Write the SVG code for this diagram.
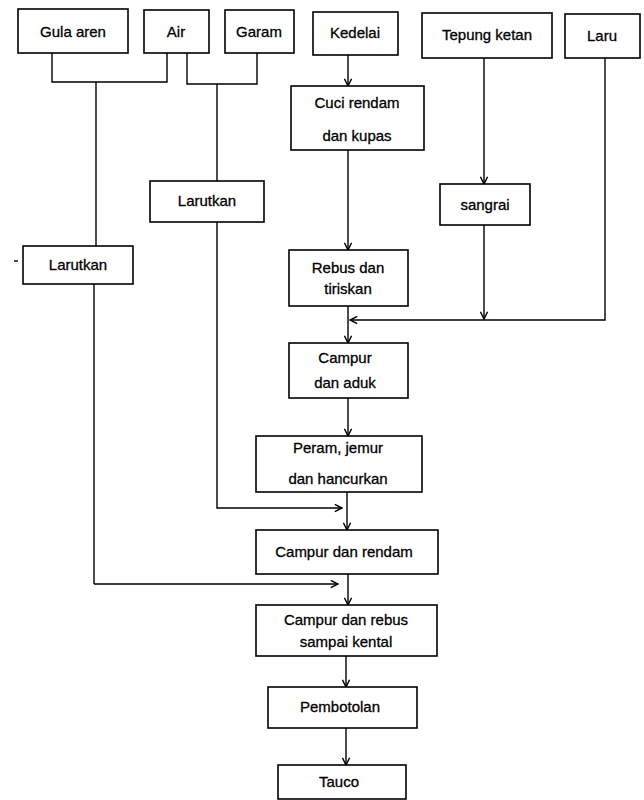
<svg xmlns="http://www.w3.org/2000/svg" width="644" height="800" viewBox="0 0 644 800">
<defs>
<marker id="ah" viewBox="0 0 10 10" refX="9" refY="5" markerWidth="9" markerHeight="9" markerUnits="userSpaceOnUse" orient="auto">
<path d="M1,1 L9,5 L1,9" fill="none" stroke="#000" stroke-width="1.6"/>
</marker>
</defs>
<style>
rect{fill:#fff;stroke:#000;stroke-width:1.6}
text{font-family:"Liberation Sans",Arial,sans-serif;font-size:15px;text-anchor:middle;fill:#000;stroke:#000;stroke-width:0.3}
.c line,.c polyline{stroke:#000;stroke-width:1.4;fill:none}
</style>
<rect width="644" height="800" style="fill:#fff;stroke:none"/>
<g class="c" id="connectors">
<polyline points="52,53 52,82 167,82 167,53"/>
<line x1="96" y1="82" x2="96" y2="246"/>
<polyline points="187,53 187,84 257,84 257,53"/>
<line x1="217" y1="84" x2="217" y2="181"/>
<line x1="348" y1="55" x2="348" y2="86" marker-end="url(#ah)"/>
<line x1="348" y1="150" x2="348" y2="250" marker-end="url(#ah)"/>
<line x1="484" y1="58" x2="484" y2="184" marker-end="url(#ah)"/>
<line x1="484" y1="225" x2="484" y2="319" marker-end="url(#ah)"/>
<polyline points="605,58 605,320 350,320" marker-end="url(#ah)"/>
<line x1="348" y1="306" x2="348" y2="343" marker-end="url(#ah)"/>
<line x1="348" y1="398" x2="348" y2="436" marker-end="url(#ah)"/>
<line x1="347" y1="492" x2="347" y2="530" marker-end="url(#ah)"/>
<polyline points="217,222 217,508 342,508" marker-end="url(#ah)"/>
<line x1="94" y1="284" x2="94" y2="584"/>
<line x1="94" y1="584" x2="338" y2="584" marker-end="url(#ah)"/>
<line x1="348" y1="574" x2="348" y2="605" marker-end="url(#ah)"/>
<line x1="346" y1="656" x2="346" y2="687" marker-end="url(#ah)"/>
<line x1="346" y1="728" x2="346" y2="765" marker-end="url(#ah)"/>
<line x1="14" y1="261" x2="18" y2="261"/>
</g>
<g id="gula-aren"><rect x="18" y="9" width="110" height="44"/><text x="73" y="37">Gula aren</text></g>
<g id="air"><rect x="144" y="10" width="65" height="43"/><text x="176" y="37">Air</text></g>
<g id="garam"><rect x="225" y="10" width="69" height="43"/><text x="259" y="37">Garam</text></g>
<g id="kedelai"><rect x="313" y="12" width="85" height="43"/><text x="355" y="38">Kedelai</text></g>
<g id="tepung-ketan"><rect x="422" y="13" width="130" height="45"/><text x="487" y="40">Tepung ketan</text></g>
<g id="laru"><rect x="565" y="14" width="75" height="44"/><text x="602" y="41">Laru</text></g>
<g id="cuci"><rect x="291" y="86" width="133" height="64"/><text x="357" y="108">Cuci rendam</text><text x="357" y="141">dan kupas</text></g>
<g id="larutkan2"><rect x="150" y="181" width="114" height="41"/><text x="207" y="206">Larutkan</text></g>
<g id="larutkan1"><rect x="23" y="246" width="110" height="38"/><text x="78" y="270">Larutkan</text></g>
<g id="sangrai"><rect x="440" y="184" width="90" height="41"/><text x="485" y="210">sangrai</text></g>
<g id="rebus"><rect x="289" y="250" width="119" height="56"/><text x="348" y="273">Rebus dan</text><text x="348" y="294">tiriskan</text></g>
<g id="campur"><rect x="289" y="343" width="119" height="55"/><text x="345" y="363">Campur</text><text x="345" y="388">dan aduk</text></g>
<g id="peram"><rect x="256" y="436" width="166" height="56"/><text x="338" y="453">Peram, jemur</text><text x="338" y="484">dan hancurkan</text></g>
<g id="campur-rendam"><rect x="256" y="530" width="182" height="44"/><text x="344" y="557">Campur dan rendam</text></g>
<g id="campur-rebus"><rect x="256" y="605" width="181" height="51"/><text x="346" y="625">Campur dan rebus</text><text x="346" y="647">sampai  kental</text></g>
<g id="pembotolan"><rect x="268" y="687" width="149" height="41"/><text x="340" y="712">Pembotolan</text></g>
<g id="tauco"><rect x="278" y="765" width="128" height="34"/><text x="339" y="787">Tauco</text></g>
</svg>
